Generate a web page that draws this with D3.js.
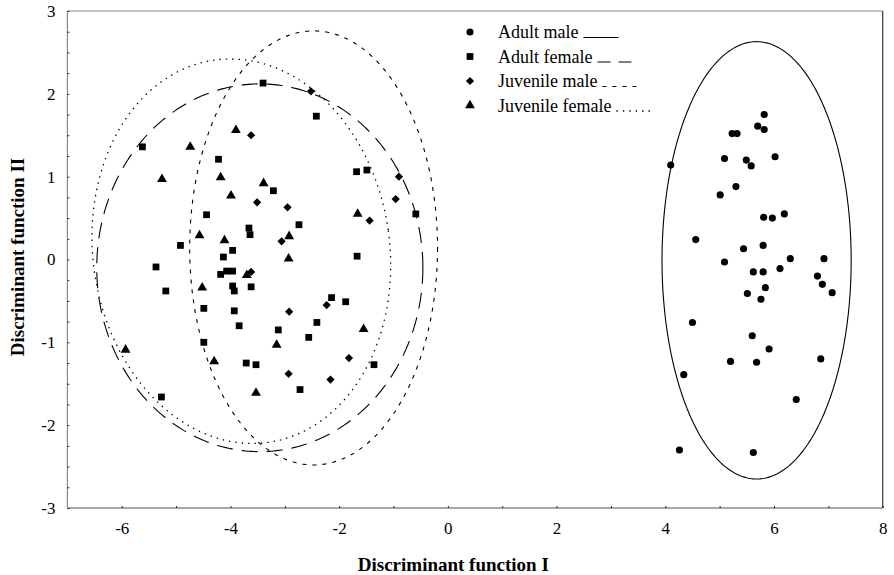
<!DOCTYPE html>
<html>
<head>
<meta charset="utf-8">
<script src="https://cdn.jsdelivr.net/npm/d3@7"></script>
<style>
body { margin: 0; background: #fff; }
text { font-family: "Liberation Serif", "Times New Roman", serif; fill: #000; }
</style>
</head>
<body>
<svg id="drawing_region"></svg>
<script>
const groups = ['Adult male', 'Adult female', 'Juvenile male', 'Juvenile female'];

// discriminant scores
const adultMaleX = [5.82, 5.70, 5.82, 5.23, 5.32, 5.09, 5.49, 5.58, 6.02, 4.10,
    5.30, 5.01, 5.81, 5.97, 6.19, 4.56, 5.44, 5.80, 5.09, 5.62,
    5.80, 6.11, 6.30, 6.92, 6.80, 6.89, 5.84, 5.51, 5.76, 7.07,
    4.50, 5.60, 5.91, 5.20, 5.68, 6.86, 4.34, 6.41, 4.26, 5.62];
const adultMaleY = [1.75, 1.61, 1.57, 1.52, 1.52, 1.22, 1.20, 1.13, 1.24, 1.14,
    0.88, 0.78, 0.51, 0.50, 0.55, 0.24, 0.13, 0.17, -0.03, -0.15,
    -0.15, -0.11, 0.01, 0.01, -0.20, -0.30, -0.34, -0.41, -0.48, -0.40,
    -0.76, -0.92, -1.08, -1.23, -1.24, -1.20, -1.39, -1.69, -2.30, -2.33];

const adultFemaleX = [-3.40, -5.62, -4.22, -3.21, -4.44, -3.66, -3.64, -4.92, -3.96, -4.13,
    -2.42, -1.68, -1.49, -0.59, -2.74, -1.67, -5.37, -4.18, -4.07, -3.96,
    -5.19, -3.96, -3.93, -3.62, -4.49, -3.93, -3.84, -3.12, -4.49, -3.71,
    -3.53, -5.27, -2.14, -1.88, -2.41, -2.56, -1.36, -2.72];
const adultFemaleY = [2.13, 1.36, 1.21, 0.83, 0.54, 0.38, 0.30, 0.17, 0.11, 0.03,
    1.73, 1.06, 1.08, 0.55, 0.42, 0.04, -0.09, -0.18, -0.14, -0.14,
    -0.38, -0.32, -0.38, -0.33, -0.59, -0.62, -0.80, -0.85, -1.00, -1.25,
    -1.27, -1.66, -0.46, -0.51, -0.76, -0.94, -1.27, -1.57];

const juvenileMaleX = [-3.62, -3.51, -2.52, -0.90, -0.96, -2.95, -1.44, -3.06, -3.62, -2.23,
    -2.92, -1.82, -2.93, -2.16];
const juvenileMaleY = [1.50, 0.69, 2.03, 1.00, 0.73, 0.63, 0.47, 0.22, -0.15, -0.55,
    -0.63, -1.19, -1.38, -1.45];

const juvenileFemaleX = [-3.90, -4.74, -5.26, -4.18, -3.39, -3.99, -4.57, -4.11, -2.92, -2.93,
    -1.66, -3.70, -4.52, -3.15, -1.55, -5.93, -4.30, -3.53];
const juvenileFemaleY = [1.56, 1.36, 0.97, 0.99, 0.92, 0.77, 0.29, 0.23, 0.28, 0.01,
    0.55, -0.19, -0.34, -1.03, -0.84, -1.09, -1.23, -1.61];

// group ellipses: centre, semi-axes (data units), tilt in degrees
const ellipseCx = [5.68, -3.46, -2.47, -3.80];
const ellipseCy = [-0.01, -0.10, 0.14, 0.10];
const ellipseRx = [1.74, 3.00, 2.28, 2.73];
const ellipseRy = [2.64, 2.22, 2.62, 2.33];
const ellipseTilt = [0, 0, 0, -8];

const xTickLabels = [-6, -4, -2, 0, 2, 4, 6, 8];
const yTickLabels = [-3, -2, -1, 0, 1, 2, 3];

class discriminantPlot {

    constructor(config, data) {
        this.config = {
            parent: config.parent,
            width: config.width || 894,
            height: config.height || 575,
            margin: config.margin || { top: 11, right: 11, bottom: 67, left: 67 }
        };
        this.data = data;
        this.init();
    }

    init() {
        let self = this;

        self.svg = d3.select(self.config.parent)
            .attr('width', self.config.width)
            .attr('height', self.config.height);

        self.inner_width = self.config.width - self.config.margin.left - self.config.margin.right;
        self.inner_height = self.config.height - self.config.margin.top - self.config.margin.bottom;

        self.chart = self.svg.append('g')
            .attr('transform', `translate(${self.config.margin.left}, ${self.config.margin.top})`);

        self.xscale = d3.scaleLinear()
            .domain([-7, 8])
            .range([0, self.inner_width]);
        self.yscale = d3.scaleLinear()
            .domain([-3, 3])
            .range([self.inner_height, 0]);

        self.styles = [
            { symbol: d3.symbolCircle, size: 40, rotate: 0, dash: null },
            { symbol: d3.symbolSquare, size: 46, rotate: 0, dash: '16,9' },
            { symbol: d3.symbolSquare, size: 34, rotate: 45, dash: '4,6' },
            { symbol: d3.symbolTriangle, size: 42, rotate: 0, dash: '1.4,5' }
        ];
    }

    render() {
        let self = this;
        const w = self.inner_width, h = self.inner_height;
        const fmt = d => String(d);
        const serif = '"Liberation Serif", "Times New Roman", serif';

        // frame
        self.chart.append('line').attr('x1', 0).attr('x2', w).attr('y1', 0).attr('y2', 0)
            .attr('stroke', '#8a8a8a').attr('stroke-width', 1.2);
        self.chart.append('line').attr('x1', 0).attr('x2', 0).attr('y1', 0).attr('y2', h)
            .attr('stroke', '#8a8a8a').attr('stroke-width', 1.2);
        self.chart.append('line').attr('x1', 0).attr('x2', w).attr('y1', h).attr('y2', h)
            .attr('stroke', '#8a8a8a').attr('stroke-width', 1.6);
        self.chart.append('line').attr('x1', w).attr('x2', w).attr('y1', 0).attr('y2', h)
            .attr('stroke', '#333').attr('stroke-width', 1.2);

        // axes
        const xaxis = d3.axisBottom(self.xscale)
            .tickValues(d3.range(-6, 9, 1))
            .tickSizeInner(-2).tickSizeOuter(0).tickPadding(14)
            .tickFormat(d => xTickLabels.includes(d) ? fmt(d) : '');
        const xg = self.chart.append('g')
            .attr('transform', `translate(0, ${h})`)
            .call(xaxis);

        const yaxis = d3.axisLeft(self.yscale)
            .tickValues(d3.range(-3, 3.01, 0.25))
            .tickSizeInner(-2).tickSizeOuter(0).tickPadding(12)
            .tickFormat(d => yTickLabels.includes(d) ? fmt(d) : '');
        const yg = self.chart.append('g')
            .call(yaxis);

        [xg, yg].forEach(g => {
            g.attr('font-family', serif).attr('font-size', 17);
            g.select('.domain').remove();
            g.selectAll('.tick line').attr('stroke', '#222').attr('stroke-width', 1);
            g.selectAll('.tick text')
                .attr('font-family', serif)
                .style('font-family', serif)
                .attr('fill', '#000');
        });

        // axis titles
        self.chart.append('text')
            .attr('x', self.xscale(0.1))
            .attr('y', h + 63)
            .attr('text-anchor', 'middle')
            .style('font-size', '19px')
            .style('font-weight', 'bold')
            .text('Discriminant function I');
        self.chart.append('text')
            .attr('transform', `translate(${-43}, ${self.yscale(0.03)}) rotate(-90)`)
            .attr('text-anchor', 'middle')
            .style('font-size', '19px')
            .style('font-weight', 'bold')
            .text('Discriminant function II');

        // ellipses
        const ellipse = d3.line().curve(d3.curveLinearClosed);
        groups.forEach((g, i) => {
            const cx = self.xscale(ellipseCx[i]);
            const cy = self.yscale(ellipseCy[i]);
            const a = self.xscale(ellipseCx[i] + ellipseRx[i]) - cx;
            const b = cy - self.yscale(ellipseCy[i] + ellipseRy[i]);
            const phi = ellipseTilt[i] * Math.PI / 180;
            const pts = d3.range(0, 360, 1).map(t => {
                const r = t * Math.PI / 180;
                const ex = a * Math.cos(r), ey = b * Math.sin(r);
                return [cx + ex * Math.cos(phi) - ey * Math.sin(phi),
                        cy + ex * Math.sin(phi) + ey * Math.cos(phi)];
            });
            self.chart.append('path')
                .attr('d', ellipse(pts))
                .attr('fill', 'none')
                .attr('stroke', '#000')
                .attr('stroke-width', i === 3 ? 1.3 : 1.1)
                .attr('stroke-dasharray', self.styles[i].dash);
        });

        // points
        groups.forEach((g, i) => {
            const st = self.styles[i];
            const sym = d3.symbol().type(st.symbol).size(st.size);
            self.chart.append('g')
                .selectAll('path')
                .data(self.data[i])
                .join('path')
                .attr('d', sym)
                .attr('fill', '#000')
                .attr('transform', d =>
                    `translate(${self.xscale(d.x)}, ${self.yscale(d.y)}) rotate(${st.rotate})`);
        });

        // legend
        const legend = self.svg.append('g')
            .attr('transform', 'translate(470, 32)');
        groups.forEach((g, i) => {
            const st = self.styles[i];
            const row = legend.append('g').attr('transform', `translate(0, ${i * 24.5})`);
            row.append('path')
                .attr('d', d3.symbol().type(st.symbol).size(st.size))
                .attr('transform', `rotate(${st.rotate})`)
                .attr('fill', '#000');
            const label = row.append('text')
                .attr('x', 28)
                .attr('y', 6)
                .style('font-size', '18px')
                .text(g);
            const len = label.node().getComputedTextLength();
            row.append('line')
                .attr('x1', 28 + len + 5)
                .attr('x2', 28 + len + 40)
                .attr('y1', 5.5).attr('y2', 5.5)
                .attr('stroke', '#000')
                .attr('stroke-width', i === 3 ? 1.3 : 1.1)
                .attr('stroke-dasharray', i === 1 ? '13,8' : st.dash);
        });
    }
}

const zip = (xs, ys) => xs.map((x, i) => ({ x: x, y: ys[i] }));
const data = [
    zip(adultMaleX, adultMaleY),
    zip(adultFemaleX, adultFemaleY),
    zip(juvenileMaleX, juvenileMaleY),
    zip(juvenileFemaleX, juvenileFemaleY)
];

const config = {
    parent: '#drawing_region',
    width: 894,
    height: 575,
    margin: { top: 11, right: 11.3, bottom: 67, left: 67.4 }
};
const plot = new discriminantPlot(config, data);
plot.render();
</script>
</body>
</html>
